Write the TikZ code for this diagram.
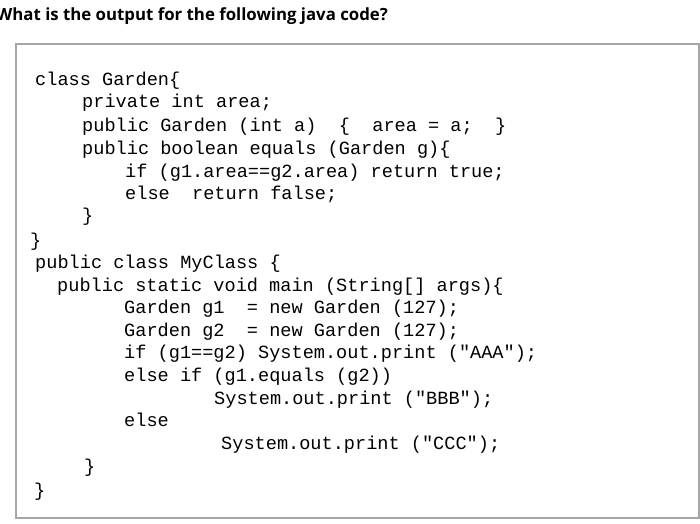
\documentclass[tikz,border=0pt]{standalone}
\usepackage{fontspec}
\setmainfont{Open Sans}
\newfontfamily\codefont{Liberation Mono}
\begin{document}
\begin{tikzpicture}[x=1pt,y=1pt,
  code/.style={anchor=base west,inner sep=0pt,font=\codefont\fontsize{18.6}{20}\selectfont},
  frame/.style={draw=black!35,line width=1.5pt}]
\useasboundingbox (0,0) rectangle (700,-523);
\fill[white] (0,0) rectangle (700,-523);
\node[anchor=base west,inner sep=0pt,font=\bfseries\fontsize{16.8}{18}\selectfont] (title) at (-4,-20) {What is the output for the following java code?};
\draw[frame] (16,-44) rectangle (699,-518);
\node[code] (l1) at (35,-85) {class Garden\{};
\node[code] (l2) at (82,-107) {private int area;};
\node[code] (l3) at (82,-131) {public Garden (int a) ~\{ ~area = a; ~\}};
\node[code] (l4) at (82,-154) {public boolean equals (Garden g)\{};
\node[code] (l5) at (125,-177) {if (g1.area==g2.area) return true;};
\node[code] (l6) at (125,-199) {else ~return false;};
\node[code] (l7) at (82,-221) {\}};
\node[code] (l8) at (30,-246) {\}};
\node[code] (l9) at (35,-268) {public class MyClass \{};
\node[code] (l10) at (57,-291) {public static void main (String[] args)\{};
\node[code] (l11) at (124,-313) {Garden g1 ~= new Garden (127);};
\node[code] (l12) at (124,-336) {Garden g2 ~= new Garden (127);};
\node[code] (l13) at (124,-358) {if (g1==g2) System.out.print ("AAA");};
\node[code] (l14) at (124,-381) {else if (g1.equals (g2))};
\node[code] (l15) at (214,-404) {System.out.print ("BBB");};
\node[code] (l16) at (124,-426) {else};
\node[code] (l17) at (221,-449) {System.out.print ("CCC");};
\node[code] (l18) at (84,-472) {\}};
\node[code] (l19) at (34,-496) {\}};
\end{tikzpicture}
\end{document}
